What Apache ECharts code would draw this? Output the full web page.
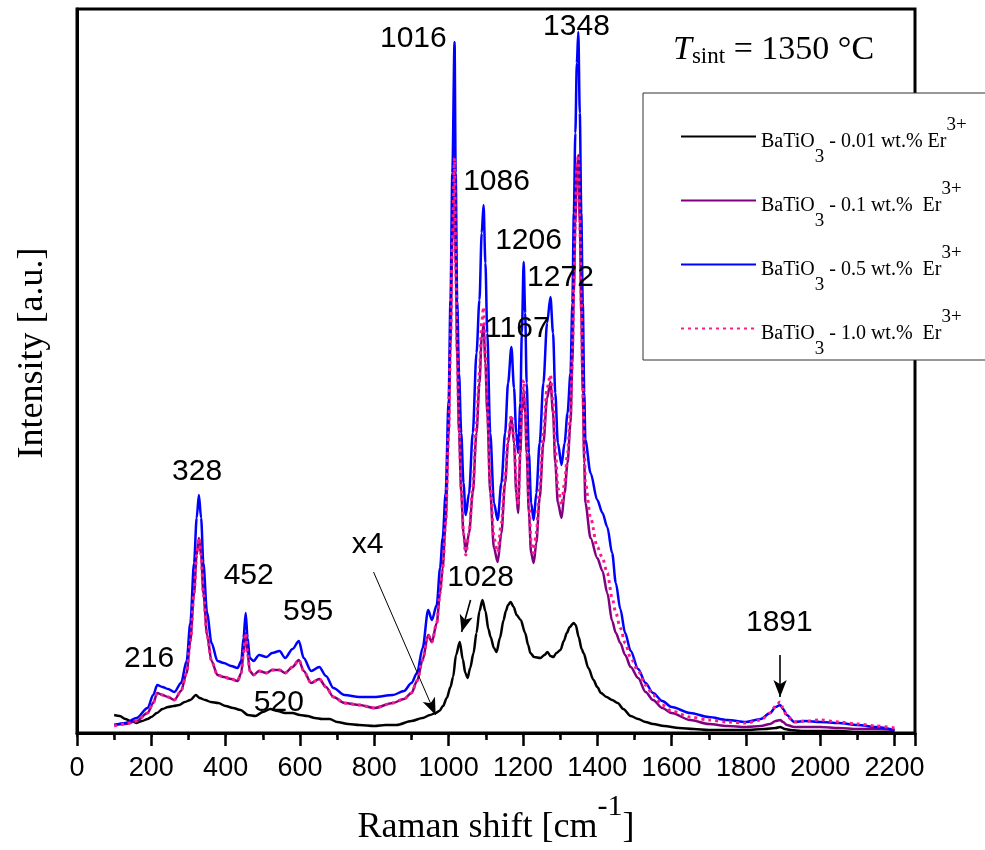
<!DOCTYPE html>
<html>
<head>
<meta charset="utf-8">
<script src="https://cdn.jsdelivr.net/npm/echarts@6/dist/echarts.min.js"></script>
<style>html,body{margin:0;padding:0;background:#fff}#chart{width:985px;height:850px}</style>
</head>
<body>
<div id="chart"></div>
<script>
// ---- data ----
const wavenumbers = [100,130,160,190,205,216,230,245,262,280,
295,305,315,322,328,334,340,350,362,378,
395,415,432,442,448,454,459,465,475,490,
510,525,545,560,580,597,610,630,652,670,
690,720,760,800,850,880,900,915,930,945,
955,968,977,984,992,1000,1005,1010,1016,1019,
1023,1028,1034,1040,1046,1055,1065,1075,1083,1089,
1094,1099,1104,1112,1122,1132,1142,1152,1160,1169,
1176,1182,1187,1193,1197,1202,1206,1210,1216,1222,
1229,1236,1245,1255,1265,1274,1281,1287,1294,1304,
1312,1320,1328,1333,1337,1341,1345,1349,1353,1357,
1361,1365,1368,1382,1400,1414,1427,1440,1450,1462,
1475,1490,1510,1530,1550,1575,1600,1650,1700,1750,
1800,1840,1865,1880,1892,1900,1910,1930,1960,2000,
2050,2100,2150,2200];

const int05 = [8,10,15,25,38,48,46,44,41,50,
72,110,170,215,238,215,170,120,90,72,
70,67,65,72,95,120,95,75,72,78,
76,80,82,75,84,92,75,62,66,57,
45,38,36,36,38,42,50,60,85,123,
113,128,165,195,240,333,433,560,691,560,
433,360,300,250,218,240,300,380,433,500,
528,470,400,300,230,213,250,300,350,386,
345,300,280,330,400,471,420,350,280,230,
213,240,290,350,410,436,400,340,290,268,
290,320,360,430,520,600,670,701,620,520,
430,340,293,260,233,220,206,180,150,124,
100,82,64,50,40,32,26,20,16,13,
11,14,20,26,28,24,18,11,12,11,
10,8,6,3];

const int01 = [8,9,12,20,30,40,38,36,33,42,
60,92,140,178,195,178,140,98,72,58,
56,54,52,60,80,100,80,62,58,62,
60,63,63,60,66,73,62,50,54,46,
36,30,28,25,30,34,40,52,73,98,
91,110,140,165,210,300,390,490,580,470,
380,300,240,200,181,200,240,300,350,395,
408,370,320,240,185,171,200,250,290,316,
290,240,220,280,320,343,320,280,220,180,
170,190,235,290,335,351,320,270,230,215,
240,270,310,370,440,510,560,578,510,420,
340,270,230,195,175,162,140,112,100,90,
78,66,55,41,33,25,20,13,9,7,
6,7,9,12,13,11,8,6,6,6,
5,4,4,3];

const int10 = [7,9,12,20,30,40,38,36,33,42,
60,92,140,178,195,178,140,98,72,58,
56,54,52,60,80,100,80,62,58,62,
60,63,63,60,66,73,62,50,54,46,
36,30,28,25,30,34,40,52,73,98,
91,110,140,165,210,300,390,490,575,470,
385,305,245,200,178,200,245,310,360,410,
426,380,330,250,195,181,210,255,295,318,
295,250,228,290,330,353,330,290,230,190,
180,200,245,300,345,358,330,285,245,228,
250,280,320,380,450,515,565,578,515,430,
350,285,250,215,186,175,160,135,120,105,
90,75,62,48,38,28,22,16,13,11,
10,13,20,27,31,25,17,11,12,13,
11,9,7,5];

const wnBlack = [100,115,130,145,160,175,190,200,215,230,
245,260,275,290,305,320,330,345,360,380,
400,420,440,460,480,500,520,540,560,580,
600,620,640,660,680,700,730,760,800,830,
860,900,930,950,965,975,985,995,1005,1012,
1020,1030,1038,1045,1051,1058,1067,1075,1083,1091,
1099,1107,1113,1122,1129,1138,1148,1154,1160,1167,
1175,1183,1194,1206,1214,1220,1230,1247,1258,1266,
1274,1282,1290,1301,1310,1318,1326,1336,1342,1350,
1358,1363,1376,1390,1400,1410,1425,1440,1455,1470,
1490,1510,1530,1550,1580,1620,1660,1700,1750,1800,
1850,1880,1892,1905,1920,1950,2000,2050,2100,2150,
2200];

const int001 = [18,17,14,12,10,12,14,16,20,24,
26,27,28,31,33,38,35,33,31,30,
27,25,23,18,17,21,24,22,20,20,
18,17,15,14,14,11,9,8,7,8,
8,12,15,18,20,22,27,35,46,56,
78,91,74,60,55,65,80,100,122,133,
122,104,96,85,81,95,113,122,128,131,
126,118,113,100,88,80,76,75,78,81,
77,76,80,83,92,100,106,110,108,96,
84,80,65,53,46,40,36,33,30,24,
17,14,11,9,7,5,4,3,3,3,
4,5,6,4,3,2,2,2,1,1,
1];

const seriesConc = ['0.01 wt.% Er', '0.1 wt.%  Er', '0.5 wt.%  Er', '1.0 wt.%  Er'];
const xTicks = [0,200,400,600,800,1000,1200,1400,1600,1800,2000,2200];

const peakLabels = ['1016','1348','1086','1206','1272','1167','328','452','595','216','520','x4','1028','1891'];
const peakLabelX = [905,1344,1129,1215,1301,1185,323,462,622,194,543,782,1086,1890];
const peakLabelY = [694,706,551,492,455,404,261,157,121,74,30,188,155,110];

const arrowFrom = [[798,161],[1059,133],[1892,78]];
const arrowTo   = [[965,18],[1035,101],[1892,36]];

// ---- build ----
const pairs = (xs, ys) => xs.map((x, i) => [x, ys[i]]);
const names = seriesConc.map(c => 'BaTiO3 - ' + c + '3+');
const colors = ['#000000', '#800080', '#0000ff', '#ff1a8c'];
const dataSets = [pairs(wnBlack, int001), pairs(wavenumbers, int01), pairs(wavenumbers, int05), pairs(wavenumbers, int10)];

const serif = 'Liberation Serif';
const sans = 'Liberation Sans';

const lineSeries = names.map((n, i) => ({
  name: n,
  type: 'line',
  data: dataSets[i],
  symbol: 'none',
  smooth: 0.3,
  smoothMonotone: 'x',
  z: 2 + i,
  lineStyle: i === 3
    ? { color: colors[i], width: 3, type: [3, 4], cap: 'butt' }
    : { color: colors[i], width: 2.5 },
  itemStyle: { color: colors[i] },
  emphasis: { disabled: true }
}));

const annot = {
  name: 'annotations',
  type: 'scatter',
  silent: true,
  z: 10,
  symbolSize: 0,
  itemStyle: { color: '#000' },
  data: peakLabels.map((t, i) => [peakLabelX[i], peakLabelY[i], t]),
  label: {
    show: true, position: 'inside',
    formatter: p => p.data[2],
    color: '#000', fontFamily: sans, fontSize: 30,
    textBorderWidth: 0, textBorderColor: 'transparent', opacity: 1
  },
  markLine: {
    silent: true,
    symbol: ['none', 'arrow'],
    symbolSize: [10, 17],
    label: { show: false },
    lineStyle: { color: '#000', width: 1.3, type: 'solid' },
    data: arrowFrom.map((f, i) => [
      { coord: f, lineStyle: { width: i === 0 ? 1 : 1.6 } },
      { coord: arrowTo[i] }
    ])
  }
};

const chart = echarts.init(document.getElementById('chart'), null, { renderer: 'canvas' });
chart.setOption({
  animation: false,
  backgroundColor: '#fff',
  title: {
    text: '{t|T}{s|sint}{n| = 1350 °C}',
    left: 673, top: 30, padding: 0,
    textStyle: {
      fontWeight: 'normal',
      rich: {
        t: { fontFamily: serif, fontStyle: 'italic', fontWeight: 'normal', fontSize: 34, lineHeight: 40, color: '#000' },
        s: { fontFamily: serif, fontWeight: 'normal', fontSize: 23, lineHeight: 40, padding: [13, 0, 0, 0], color: '#000' },
        n: { fontFamily: serif, fontWeight: 'normal', fontSize: 34, lineHeight: 40, color: '#000' }
      }
    }
  },
  legend: {
    data: names,
    orient: 'vertical',
    left: 643, top: 93,
    padding: [13, 40, 1, 37],
    itemWidth: 75, itemHeight: 14, itemGap: 3,
    backgroundColor: '#fff',
    borderColor: '#333', borderWidth: 1,
    borderRadius: 0,
    selectedMode: false,
    itemStyle: { opacity: 0 },
    formatter: n => {
      const c = seriesConc[names.indexOf(n)];
      return '{m|BaTiO}{s|3}{m| - ' + c + '}{p|3+}';
    },
    textStyle: {
      color: '#000', fontFamily: serif, fontSize: 20,
      rich: {
        m: { fontFamily: serif, fontSize: 20, lineHeight: 20, padding: [11, 0, 0, 0], color: '#000' },
        s: { fontFamily: serif, fontSize: 19, lineHeight: 19, padding: [42, 0, 0, 0], color: '#000' },
        p: { fontFamily: serif, fontSize: 19, lineHeight: 19, padding: [0, 0, 22, 0], color: '#000' }
      }
    }
  },
  grid: {
    left: 77, top: 9, right: 70, bottom: 117,
    outerBoundsMode: 'none',
    containLabel: false,
    show: true, borderColor: '#000', borderWidth: 3, backgroundColor: 'transparent'
  },
  xAxis: [{
    type: 'value', min: 0, max: 2255, interval: 200,
    position: 'bottom',
    name: '{a|Raman shift [cm}{p|-1}{a|]}',
    nameLocation: 'middle', nameGap: 68,
    nameMoveOverlap: false,
    nameTextStyle: {
      rich: {
        a: { fontFamily: serif, fontSize: 36, lineHeight: 36, padding: [18, 0, 0, 0], color: '#000' },
        p: { fontFamily: serif, fontSize: 30, lineHeight: 30, padding: [0, 0, 24, 0], color: '#000' }
      }
    },
    axisLine: { show: true, onZero: false, lineStyle: { color: '#000', width: 3 } },
    axisTick: { show: true, inside: false, length: 13, lineStyle: { color: '#000', width: 2.5 } },
    minorTick: { show: true, splitNumber: 2, length: 7, lineStyle: { color: '#000', width: 2.5 } },
    axisLabel: {
      show: true, margin: 22, color: '#000', fontFamily: sans, fontSize: 27,
      formatter: v => (xTicks.indexOf(v) >= 0 ? String(v) : ''),
      showMaxLabel: false
    },
    splitLine: { show: false }, minorSplitLine: { show: false }
  }, {
    type: 'value', min: 0, max: 2255, interval: 100,
    position: 'top',
    axisLine: { show: false },
    axisTick: { show: true, inside: true, length: 4, lineStyle: { color: '#000', width: 1.5 } },
    axisLabel: { show: false },
    splitLine: { show: false }
  }],
  yAxis: {
    type: 'value', min: 0, max: 724,
    name: 'Intensity [a.u.]',
    nameLocation: 'middle', nameGap: 26,
    nameTextStyle: { fontFamily: serif, fontSize: 36, color: '#000', padding: [0, 0, 0, 36] },
    axisLine: { show: true, lineStyle: { color: '#000', width: 3 } },
    axisTick: { show: false }, axisLabel: { show: false },
    splitLine: { show: false }
  },
  series: [...lineSeries, annot]
});
</script>
</body>
</html>
